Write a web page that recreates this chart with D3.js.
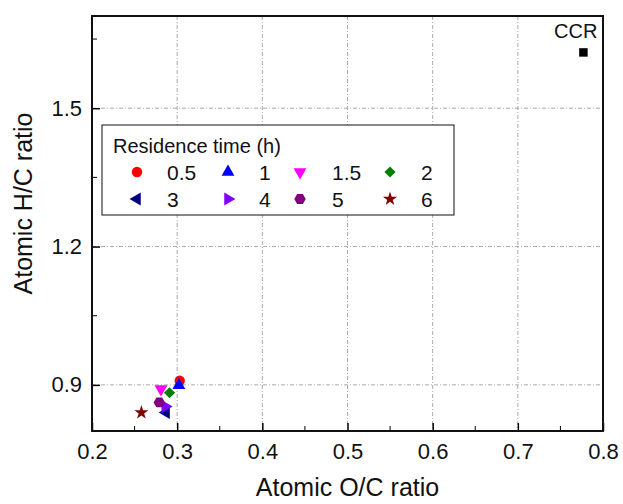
<!DOCTYPE html>
<html>
<head>
<meta charset="utf-8">
<script src="https://cdn.jsdelivr.net/npm/d3@7"></script>
<style>
  body { margin: 0; background: #fff; }
  text { font-family: Arial, "Liberation Sans", sans-serif; }
</style>
</head>
<body>
<div id="chart"></div>
<script>
// residence time series (h)
const labels = ["0.5", "1", "1.5", "2", "3", "4", "5", "6"];
const oc = [0.303, 0.302, 0.281, 0.291, 0.287, 0.286, 0.279, 0.258];
const hc = [0.909, 0.899, 0.891, 0.883, 0.840, 0.853, 0.862, 0.840];
const colors = ["#ff0000", "#0000ff", "#ff00ff", "#008000", "#000080", "#8000ff", "#800080", "#800000"];
const shapes = ["circle", "up", "down", "diamond", "left", "right", "hexagon", "star"];

// feedstock point
const ccr = { label: "CCR", oc: 0.777, hc: 1.621 };

const xTicks = [0.2, 0.3, 0.4, 0.5, 0.6, 0.7, 0.8];
const yTicks = [0.9, 1.2, 1.5];

const W = 623, H = 504;
const margin = { top: 16, right: 20, bottom: 73, left: 92 };
const width = W - margin.left - margin.right;
const height = H - margin.top - margin.bottom;

const x = d3.scaleLinear([0.2, 0.8], [0, width]);
const y = d3.scaleLinear([0.8, 1.7], [height, 0]);

const symbolHexagon = {
  draw(context, size) {
    const r = Math.sqrt(size / (1.5 * Math.sqrt(3)));
    for (let i = 0; i < 6; i++) {
      const a = Math.PI / 6 + i * Math.PI / 3;
      const px = r * Math.sin(a), py = -r * Math.cos(a);
      if (i == 0) context.moveTo(px, py);
      else context.lineTo(px, py);
    }
    context.closePath();
  }
};

function marker(shape) {
  const s = {
    circle: [d3.symbolCircle, 85, 0],
    up: [d3.symbolTriangle, 72, 0],
    down: [d3.symbolTriangle, 72, 180],
    left: [d3.symbolTriangle, 72, -90],
    right: [d3.symbolTriangle, 72, 90],
    diamond: [d3.symbolSquare, 62, 45],
    hexagon: [symbolHexagon, 85, 0],
    star: [d3.symbolStar, 62, 0],
  }[shape];
  return { path: d3.symbol(s[0], s[1])(), rot: s[2] };
}

const svg = d3.select("#chart").append("svg")
  .attr("width", W)
  .attr("height", H);

const g = svg.append("g")
  .attr("transform", `translate(${margin.left},${margin.top})`);

// grid
g.append("g")
  .selectAll("line")
  .data(xTicks.slice(1, -1))
  .join("line")
  .attr("x1", d => x(d)).attr("x2", d => x(d))
  .attr("y1", 0).attr("y2", height)
  .attr("stroke", "#aaa")
  .attr("stroke-width", 1)
  .attr("stroke-dasharray", "4,2,1,2");

g.append("g")
  .selectAll("line")
  .data(yTicks)
  .join("line")
  .attr("x1", 0).attr("x2", width)
  .attr("y1", d => y(d)).attr("y2", d => y(d))
  .attr("stroke", "#aaa")
  .attr("stroke-width", 1)
  .attr("stroke-dasharray", "4,2,1,2");

// axes with inward ticks
const xMinor = d3.range(0.25, 0.8, 0.1);
const yMinor = [1.05, 1.35, 1.65];

const xAxis = g.append("g")
  .attr("transform", `translate(0,${height})`)
  .call(d3.axisBottom(x).tickValues(xTicks).tickFormat(d3.format(".1f"))
    .tickSizeInner(-8).tickSizeOuter(0).tickPadding(12));
xAxis.append("g")
  .selectAll("line")
  .data(xMinor)
  .join("line")
  .attr("x1", d => x(d)).attr("x2", d => x(d))
  .attr("y1", 0).attr("y2", -5)
  .attr("stroke", "#000");

const yAxis = g.append("g")
  .call(d3.axisLeft(y).tickValues(yTicks).tickFormat(d3.format(".1f"))
    .tickSizeInner(-8).tickSizeOuter(0).tickPadding(10));
yAxis.append("g")
  .selectAll("line")
  .data(yMinor)
  .join("line")
  .attr("x1", 0).attr("x2", 5)
  .attr("y1", d => y(d)).attr("y2", d => y(d))
  .attr("stroke", "#000");

[xAxis, yAxis].forEach(a => {
  a.select(".domain").remove();
  a.selectAll(".tick line").attr("stroke", "#000").attr("stroke-width", 1.5);
  a.selectAll("text").attr("font-size", 22).attr("fill", "#111");
});
xAxis.selectAll(".tick text").attr("dy", "0.71em");

// frame
g.append("rect")
  .attr("width", width)
  .attr("height", height)
  .attr("fill", "none")
  .attr("stroke", "#111")
  .attr("stroke-width", 2);

// axis titles
svg.append("text")
  .attr("x", margin.left + width / 2)
  .attr("y", 496)
  .attr("text-anchor", "middle")
  .attr("font-size", 25)
  .attr("fill", "#111")
  .text("Atomic O/C ratio");

svg.append("text")
  .attr("transform", `translate(32,${margin.top + height / 2 - 20}) rotate(-90)`)
  .attr("text-anchor", "middle")
  .attr("font-size", 25)
  .attr("fill", "#111")
  .text("Atomic H/C ratio");

// legend
const legend = svg.append("g").attr("transform", "translate(102,125)");
legend.append("rect")
  .attr("width", 352)
  .attr("height", 90)
  .attr("fill", "#fff")
  .attr("stroke", "#111")
  .attr("stroke-width", 1);
legend.append("text")
  .attr("x", 11)
  .attr("y", 28)
  .attr("font-size", 20)
  .attr("fill", "#111")
  .text("Residence time (h)");

const colSym = [35, 126, 198, 288];
const colLab = [65, 157, 230, 319];
const rowY = [47, 74];

const items = legend.selectAll("g.item")
  .data(labels)
  .join("g")
  .attr("class", "item")
  .attr("transform", (d, i) => `translate(0,${rowY[Math.floor(i / 4)]})`);
items.append("path")
  .attr("d", (d, i) => marker(shapes[i]).path)
  .attr("transform", (d, i) => `translate(${colSym[i % 4]},0) rotate(${marker(shapes[i]).rot})`)
  .attr("fill", (d, i) => colors[i]);
items.append("text")
  .attr("x", (d, i) => colLab[i % 4])
  .attr("dy", "0.36em")
  .attr("font-size", 21)
  .attr("fill", "#111")
  .text(d => d);

// data points
g.append("g")
  .selectAll("path")
  .data(labels)
  .join("path")
  .attr("d", (d, i) => marker(shapes[i]).path)
  .attr("transform", (d, i) => `translate(${x(oc[i])},${y(hc[i])}) rotate(${marker(shapes[i]).rot})`)
  .attr("fill", (d, i) => colors[i]);

g.append("path")
  .attr("d", d3.symbol(d3.symbolSquare, 72)())
  .attr("transform", `translate(${x(ccr.oc)},${y(ccr.hc)})`)
  .attr("fill", "#000");

g.append("text")
  .attr("x", x(ccr.oc) + 14)
  .attr("y", y(ccr.hc) - 14)
  .attr("text-anchor", "end")
  .attr("font-size", 20)
  .attr("fill", "#111")
  .text(ccr.label);
</script>
</body>
</html>
